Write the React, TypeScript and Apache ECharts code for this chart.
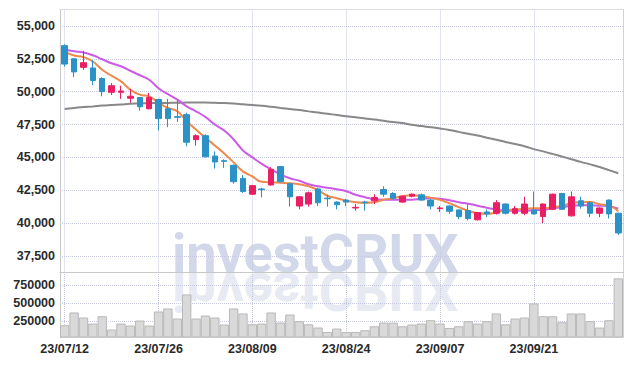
import React, { useEffect, useRef } from 'react';
import * as echarts from 'echarts';

const dates = [
  '23/07/12', '23/07/13', '23/07/14', '23/07/17', '23/07/18', '23/07/19', '23/07/20', '23/07/21', '23/07/24', '23/07/25',
  '23/07/26', '23/07/27', '23/07/28', '23/07/31', '23/08/01', '23/08/02', '23/08/03', '23/08/04', '23/08/07', '23/08/08',
  '23/08/09', '23/08/10', '23/08/11', '23/08/14', '23/08/16', '23/08/17', '23/08/18', '23/08/21', '23/08/22', '23/08/23',
  '23/08/24', '23/08/25', '23/08/28', '23/08/29', '23/08/30', '23/08/31', '23/09/01', '23/09/04', '23/09/05', '23/09/06',
  '23/09/07', '23/09/08', '23/09/11', '23/09/12', '23/09/13', '23/09/14', '23/09/15', '23/09/18', '23/09/19', '23/09/20',
  '23/09/21', '23/09/22', '23/09/25', '23/09/26', '23/09/27', '23/10/04', '23/10/05', '23/10/06', '23/10/10', '23/10/11',
];

const opens = [
  53500, 52500, 51850, 51800, 51000, 49950, 49950, 49500, 49550, 48700,
  49400, 48700, 48100, 48250, 46350, 46650, 45100, 44750, 44400, 43400,
  42200, 42600, 42900, 44300, 43000, 41300, 41450, 42600, 41900, 41600,
  41750, 41150, 41600, 41700, 42550, 42250, 41600, 42050, 42150, 41750,
  41100, 41300, 41000, 40950, 40250, 40850, 40750, 41450, 40750, 40750,
  41000, 40500, 41050, 42250, 40550, 41700, 41550, 40750, 41750, 40750,
];
const closes = [
  52100, 51500, 52200, 50850, 50000, 50450, 50050, 49650, 48850, 49550,
  47950, 47950, 48050, 46150, 46650, 45050, 44650, 44700, 43150, 42400,
  42850, 42550, 44100, 43150, 42000, 42000, 42300, 41550, 41850, 41400,
  41600, 41200, 41550, 41950, 42200, 41900, 42050, 42200, 41750, 41300,
  41150, 40900, 40500, 40350, 40800, 40700, 41550, 40750, 41100, 41450,
  40700, 41450, 42200, 41050, 42000, 41300, 40750, 41150, 40700, 39250,
];
const lows = [
  51900, 51100, 51650, 50500, 49650, 49750, 49450, 49150, 48550, 48650,
  47050, 47300, 47700, 45850, 45900, 45000, 44150, 44200, 43000, 42300,
  42150, 41950, 42850, 43100, 41250, 41050, 41250, 41300, 41250, 41050,
  41300, 40950, 40950, 41450, 42000, 41800, 41550, 41950, 41700, 41050,
  40850, 40700, 40300, 40200, 40200, 40450, 40650, 40650, 40650, 40600,
  40650, 40000, 41000, 41000, 40500, 41100, 40450, 40450, 40350, 39100,
];
const highs = [
  53600, 52550, 53100, 52400, 51100, 50650, 50450, 50200, 49600, 49900,
  49450, 49450, 49400, 48400, 46750, 46750, 45450, 44850, 44450, 43650,
  42900, 42700, 44250, 44350, 43050, 42050, 42400, 42700, 42150, 41650,
  41850, 41450, 41700, 42200, 42800, 42350, 42100, 42250, 42250, 41850,
  41300, 41350, 41050, 41450, 40850, 41050, 41750, 41500, 41300, 42000,
  42400, 41500, 42250, 42300, 42400, 42000, 41650, 41200, 41800, 40800,
];

const volumes = [
  189000, 369000, 298000, 213000, 316000, 129000, 213000, 185000, 256000, 185000,
  383000, 425000, 284000, 623000, 284000, 326000, 298000, 199000, 425000, 355000,
  203000, 213000, 369000, 227000, 340000, 246000, 203000, 157000, 95000, 143000,
  95000, 95000, 119000, 175000, 227000, 227000, 175000, 199000, 213000, 260000,
  213000, 151000, 175000, 246000, 213000, 246000, 355000, 203000, 284000, 298000,
  496000, 316000, 316000, 232000, 355000, 355000, 246000, 157000, 260000, 849000,
];

const maShort = [
  53053, 52750, 52630, 52295, 51667, 51212, 50780, 50152, 49773, 49644,
  49144, 48765, 48508, 47750, 47121, 46492, 45909, 45303, 44621, 43939,
  43560, 43144, 43106, 43068, 43030, 42955, 42803, 42500, 42083, 41894,
  41705, 41591, 41553, 41591, 41780, 41894, 42045, 42121, 42045, 41932,
  41765, 41515, 41212, 40947, 40758, 40720, 40795, 40985, 41023, 41098,
  41136, 41136, 41212, 41311, 41515, 41591, 41614, 41439, 41326, 40909,
];
const maMid = [
  53182, 53068, 52977, 52765, 52462, 52159, 51932, 51591, 51250, 50909,
  50265, 49811, 49394, 48886, 48508, 48068, 47500, 47045, 46364, 45530,
  45000, 44508, 44091, 43712, 43409, 43220, 42955, 42803, 42689, 42576,
  42424, 42159, 41970, 41818, 41780, 41780, 41780, 41780, 41856, 41894,
  41856, 41742, 41591, 41477, 41326, 41174, 41023, 40947, 40947, 40947,
  40985, 41023, 41136, 41212, 41326, 41364, 41364, 41326, 41288, 41098,
];
const maLong = [
  48689, 48765, 48826, 48879, 48939, 48985, 49030, 49076, 49098, 49121,
  49136, 49144, 49152, 49167, 49182, 49174, 49152, 49129, 49091, 49038,
  48985, 48924, 48848, 48765, 48682, 48598, 48500, 48409, 48318, 48220,
  48136, 48045, 47955, 47879, 47780, 47689, 47614, 47477, 47379, 47295,
  47197, 47083, 46939, 46795, 46667, 46500, 46341, 46174, 46023, 45848,
  45629, 45455, 45265, 45061, 44864, 44659, 44470, 44265, 44030, 43788,
];

const PRICE_MIN = 36280;
const PRICE_MAX = 56250;
const PRICE_STEP = 2500;
const VOL_MIN = 24000;
const VOL_MAX = 938000;
const VOL_STEP = 250000;
const LABEL_EVERY = 10;
const watermark = 'investCRUX';

const UP = '#e91e63';
const DOWN = '#2b92c8';
const GRID_COLOR = '#c6c9de';
const AXIS_COLOR = '#c8c8c8';
const FONT = "'Liberation Sans', Arial, sans-serif";

export default function App() {
  const ref = useRef<HTMLDivElement>(null);

  useEffect(() => {
    if (!ref.current) return;
    const chart = echarts.init(ref.current, null, { renderer: 'svg' });
    const candleData = dates.map((_, i) => [opens[i], closes[i], lows[i], highs[i]]);
    const labelStyle = { fontFamily: FONT, fontSize: 12.5, color: '#2a2a2a', fontWeight: 'bold' as const };
    const vSplit = {
      show: true,
      interval: LABEL_EVERY - 1,
      alignWithLabel: true,
      lineStyle: { color: GRID_COLOR, type: 'dotted' as const, width: 1 },
    };
    const wmText = (fill: string) => ({
      type: 'text',
      x: 172,
      y: -19,
      z: -10,
      style: {
        text: watermark,
        fontFamily: 'Roboto',
        fontWeight: 'bold',
        fontSize: 54,
        fill,
        textAlign: 'left',
        textVerticalAlign: 'middle',
      },
    });
    const edgeY = (gridIndex: number) => ({
      type: 'value',
      gridIndex,
      position: 'right',
      min: gridIndex === 0 ? PRICE_MIN : VOL_MIN,
      max: gridIndex === 0 ? PRICE_MAX : VOL_MAX,
      axisLine: { show: true, lineStyle: { color: GRID_COLOR, type: 'dotted' } },
      axisTick: { show: false },
      axisLabel: { show: false },
      splitLine: { show: false },
    });

    chart.setOption({
      animation: false,
      grid: [
        { left: 60, right: 11, top: 9.5, height: 262.5 },
        { left: 60, right: 11, top: 272, height: 65 },
      ],
      graphic: [
        { type: 'group', x: 0, y: 272, z: -10, silent: true, children: [wmText('#d2d8ea')] },
        { type: 'group', x: 0, y: 272, scaleY: -1, z: -10, silent: true, children: [wmText('#e7e9f3')] },
      ],
      xAxis: [
        {
          type: 'category',
          gridIndex: 0,
          data: dates,
          boundaryGap: true,
          axisLine: { show: true, lineStyle: { color: AXIS_COLOR } },
          axisTick: { show: false, interval: LABEL_EVERY - 1, alignWithLabel: true },
          axisLabel: { show: false, interval: LABEL_EVERY - 1 },
          splitLine: vSplit,
        },
        {
          type: 'category',
          gridIndex: 1,
          data: dates,
          boundaryGap: true,
          axisLine: { show: true, lineStyle: { color: '#d8d8d8' } },
          axisTick: { show: false, interval: LABEL_EVERY - 1, alignWithLabel: true },
          axisLabel: { ...labelStyle, interval: LABEL_EVERY - 1, margin: 5 },
          splitLine: vSplit,
        },
        {
          type: 'category',
          gridIndex: 0,
          position: 'top',
          data: dates,
          boundaryGap: true,
          axisLine: { show: true, lineStyle: { color: '#dddddd' } },
          axisTick: { show: false },
          axisLabel: { show: false },
          splitLine: { show: false },
        },
      ],
      yAxis: [
        {
          type: 'value',
          gridIndex: 0,
          min: PRICE_MIN,
          max: PRICE_MAX,
          minInterval: PRICE_STEP,
          maxInterval: PRICE_STEP,
          axisLine: { show: true, lineStyle: { color: AXIS_COLOR } },
          axisTick: { show: false },
          axisLabel: {
            ...labelStyle,
            margin: 5,
            showMinLabel: false,
            showMaxLabel: false,
            formatter: (v: number) => (v % PRICE_STEP === 0 ? v.toLocaleString('en-US') : ''),
          },
          splitLine: { show: true, lineStyle: { color: GRID_COLOR, type: 'dotted' } },
        },
        {
          type: 'value',
          gridIndex: 1,
          min: VOL_MIN,
          max: VOL_MAX,
          minInterval: VOL_STEP,
          maxInterval: VOL_STEP,
          axisLine: { show: true, lineStyle: { color: AXIS_COLOR } },
          axisTick: { show: false },
          axisLabel: {
            ...labelStyle,
            margin: 5,
            showMinLabel: false,
            showMaxLabel: false,
            formatter: (v: number) => (v % VOL_STEP === 0 ? String(v) : ''),
          },
          splitLine: { show: true, lineStyle: { color: GRID_COLOR, type: 'dotted' } },
        },
        edgeY(0),
        edgeY(1),
      ],
      series: [
        {
          type: 'candlestick',
          xAxisIndex: 0,
          yAxisIndex: 0,
          data: candleData,
          barWidth: 6,
          z: 5,
          itemStyle: { color: UP, color0: DOWN, borderColor: UP, borderColor0: DOWN, borderWidth: 1 },
        },
        {
          type: 'line',
          xAxisIndex: 0,
          yAxisIndex: 0,
          data: maLong,
          smooth: true,
          showSymbol: false,
          z: 3,
          lineStyle: { color: '#888888', width: 2 },
        },
        {
          type: 'line',
          xAxisIndex: 0,
          yAxisIndex: 0,
          data: maMid,
          smooth: true,
          showSymbol: false,
          z: 4,
          lineStyle: { color: '#cc5ae8', width: 2 },
        },
        {
          type: 'line',
          xAxisIndex: 0,
          yAxisIndex: 0,
          data: maShort,
          smooth: true,
          showSymbol: false,
          z: 4,
          lineStyle: { color: '#ef8a4e', width: 2 },
        },
        {
          type: 'bar',
          xAxisIndex: 1,
          yAxisIndex: 1,
          data: volumes,
          barWidth: '100%',
          itemStyle: { color: '#d9d9d9', borderColor: '#b8b8b8', borderWidth: 1 },
        },
      ],
    });

    return () => chart.dispose();
  }, []);

  return (
    <div
      ref={ref}
      style={{ position: 'fixed', left: 0, top: 0, width: 634, height: 366, background: '#fff' }}
    />
  );
}
